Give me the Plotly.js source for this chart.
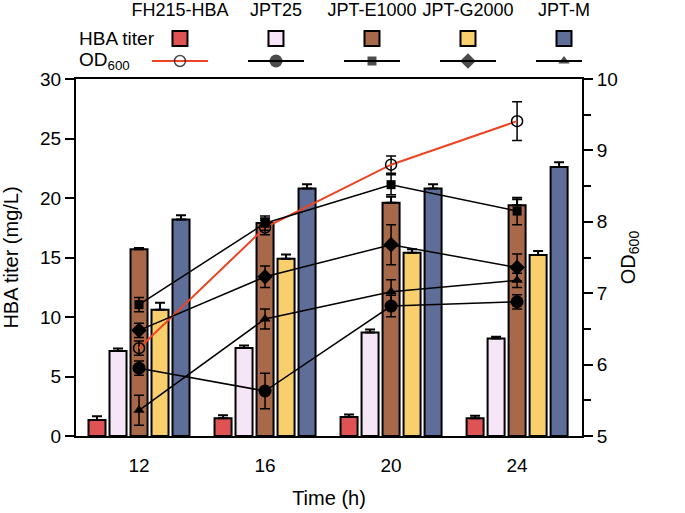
<!DOCTYPE html>
<html>
<head>
<meta charset="utf-8">
<script src="https://cdn.plot.ly/plotly-3.0.1.min.js"></script>
<style>
  html, body { margin: 0; padding: 0; background: #ffffff; }
  #grafico { width: 685px; height: 513px; }
</style>
</head>
<body>
<div id="grafico"></div>
<script>
// --- datos ---
const tiempos = [12, 16, 20, 24];
const cepas = ['FH215-HBA', 'JPT25', 'JPT-E1000', 'JPT-G2000', 'JPT-M'];
const filasLeyenda = ['HBA titer', 'OD<sub>600</sub>'];

// HBA titer (mg/L)
const hbaFH215 = [1.35, 1.5, 1.6, 1.5];
const hbaFH215Err = [0.3, 0.25, 0.2, 0.2];
const hbaJPT25 = [7.15, 7.4, 8.7, 8.2];
const hbaJPT25Err = [0.2, 0.2, 0.25, 0.15];
const hbaE1000 = [15.7, 17.9, 19.6, 19.4];
const hbaE1000Err = [0.1, 0.4, 0.5, 0.5];
const hbaG2000 = [10.6, 14.9, 15.4, 15.2];
const hbaG2000Err = [0.6, 0.35, 0.3, 0.35];
const hbaM = [18.2, 20.8, 20.8, 22.6];
const hbaMErr = [0.35, 0.35, 0.35, 0.4];

// OD600
const odFH215 = [6.23, 7.92, 8.80, 9.41];
const odFH215Err = [0.1, 0.1, 0.12, 0.27];
const odJPT25 = [5.95, 5.63, 6.82, 6.88];
const odJPT25Err = [0.1, 0.25, 0.15, 0.1];
const odE1000 = [6.84, 7.98, 8.52, 8.15];
const odE1000Err = [0.1, 0.1, 0.14, 0.19];
const odG2000 = [6.48, 7.23, 7.68, 7.36];
const odG2000Err = [0.1, 0.15, 0.28, 0.19];
const odM = [5.36, 6.64, 7.02, 7.18];
const odMErr = [0.21, 0.14, 0.17, 0.1];

const coloresBarra = ['#e05355', '#f5e5f6', '#a8694b', '#f9cf6d', '#5f6e99'];
const coloresLinea = ['#ee4422', '#000000', '#000000', '#000000', '#000000'];
const simbolos = ['circle-open', 'circle', 'square', 'diamond', 'triangle-up'];
const tamanos = [11, 13, 9, 12, 10];

const fuente = 'Liberation Sans, Arial, sans-serif';

const hbaSeries = [hbaFH215, hbaJPT25, hbaE1000, hbaG2000, hbaM];
const hbaErrores = [hbaFH215Err, hbaJPT25Err, hbaE1000Err, hbaG2000Err, hbaMErr];
const odSeries = [odFH215, odJPT25, odE1000, odG2000, odM];
const odErrores = [odFH215Err, odJPT25Err, odE1000Err, odG2000Err, odMErr];

let trazos = [];

// barras (eje izquierdo)
for (let i = 0; i < cepas.length; i++) {
    trazos.push({
        type: 'bar', x: tiempos, y: hbaSeries[i], name: cepas[i],
        marker: { color: coloresBarra[i], line: { color: '#000000', width: 2 } },
        error_y: { type: 'data', array: hbaErrores[i], arrayminus: [0, 0, 0, 0], symmetric: false,
                   color: '#000000', thickness: 2, width: 5 },
        xaxis: 'x', yaxis: 'y', showlegend: false, hoverinfo: 'skip'
    });
}

// líneas OD600 (eje derecho)
for (let i = 0; i < cepas.length; i++) {
    trazos.push({
        type: 'scatter', mode: 'lines+markers', x: tiempos, y: odSeries[i], name: cepas[i],
        line: { color: coloresLinea[i], width: i === 0 ? 2 : 1.5 },
        marker: { symbol: simbolos[i], size: tamanos[i], color: '#000000',
                  line: { color: '#000000', width: i === 0 ? 1.5 : 0 } },
        error_y: { type: 'data', array: odErrores[i], color: '#000000', thickness: 1.5, width: 5 },
        xaxis: 'x', yaxis: 'y2', showlegend: false, hoverinfo: 'skip'
    });
}

// leyenda en forma de tabla (ejes propios)
const filaBarra = cepas.map(() => filasLeyenda[0]);
const filaLinea = cepas.map(() => filasLeyenda[1]);
trazos.push({
    type: 'scatter', mode: 'markers', x: cepas, y: filaBarra,
    marker: { symbol: 'square', size: 15, color: coloresBarra, line: { color: '#000000', width: 2 } },
    xaxis: 'x3', yaxis: 'y3', showlegend: false, hoverinfo: 'skip'
});
trazos.push({
    type: 'scatter', mode: 'markers', x: cepas, y: filaLinea,
    marker: { symbol: 'line-ew', size: 40, line: { color: coloresLinea, width: 2 } },
    xaxis: 'x3', yaxis: 'y3', showlegend: false, hoverinfo: 'skip'
});
trazos.push({
    type: 'scatter', mode: 'markers', x: cepas, y: filaLinea,
    marker: { symbol: simbolos, size: tamanos, color: '#000000',
              line: { color: '#000000', width: [1.5, 0, 0, 0, 0] } },
    xaxis: 'x3', yaxis: 'y3', showlegend: false, hoverinfo: 'skip'
});

const dominioPrincipal = 357 / 414;
const negro = '#000000';

// etiquetas de fila de la leyenda
const etiquetasFila = filasLeyenda.map(f => ({
    text: f, xref: 'paper', yref: 'y3', x: 0.001, y: f, xanchor: 'left', yanchor: 'middle',
    showarrow: false, font: { size: 19, color: negro }
}));

let layout = {
    width: 685, height: 513,
    margin: { l: 76, r: 103, t: 22, b: 77 },
    paper_bgcolor: '#ffffff', plot_bgcolor: 'rgba(0,0,0,0)',
    font: { family: fuente, size: 19, color: negro },
    showlegend: false,
    barmode: 'group', bargap: 0.1667, bargroupgap: 0.19,
    xaxis: {
        range: [10, 26.06], tickvals: tiempos, ticks: '', showgrid: false, zeroline: false,
        showline: true, mirror: true, linecolor: negro, linewidth: 2,
        ticklabelstandoff: 11, tickfont: { size: 19, color: negro },
        title: { text: 'Time (h)', font: { size: 20, color: negro }, standoff: 16 },
        anchor: 'y', domain: [0, 1]
    },
    yaxis: {
        range: [0, 30], dtick: 5, ticks: 'outside', ticklen: 9, tickwidth: 2, tickcolor: negro,
        showgrid: false, zeroline: false, showline: true, linecolor: negro, linewidth: 2,
        tickfont: { size: 19, color: negro },
        title: { text: 'HBA titer (mg/L)', font: { size: 20, color: negro }, standoff: 16 },
        domain: [0, dominioPrincipal], anchor: 'x'
    },
    yaxis2: {
        range: [5, 10], dtick: 1, ticks: 'outside', ticklen: 9, tickwidth: 2, tickcolor: negro,
        minor: { dtick: 0.5, ticks: 'outside', ticklen: 7, tickwidth: 2, tickcolor: negro },
        showgrid: false, zeroline: false, showline: true, linecolor: negro, linewidth: 2,
        overlaying: 'y', side: 'right', anchor: 'x',
        tickfont: { size: 19, color: negro },
        title: { text: 'OD<sub>600</sub>', font: { size: 20, color: negro }, standoff: 4 }
    },
    xaxis3: {
        type: 'category', categoryarray: cepas, range: [-1.083, 4.1875],
        side: 'top', anchor: 'y3', domain: [0, 1], ticks: '',
        showgrid: false, zeroline: false, showline: false,
        tickfont: { size: 18, color: negro }, ticklabelstandoff: 1
    },
    yaxis3: {
        type: 'category', categoryarray: filasLeyenda, range: [2.378, -0.733],
        anchor: 'x3', domain: [0.8309, 1], ticks: '', showticklabels: false,
        showgrid: false, zeroline: false, showline: false
    },
    annotations: etiquetasFila
};

Plotly.newPlot('grafico', trazos, layout, { staticPlot: true });
</script>
</body>
</html>
